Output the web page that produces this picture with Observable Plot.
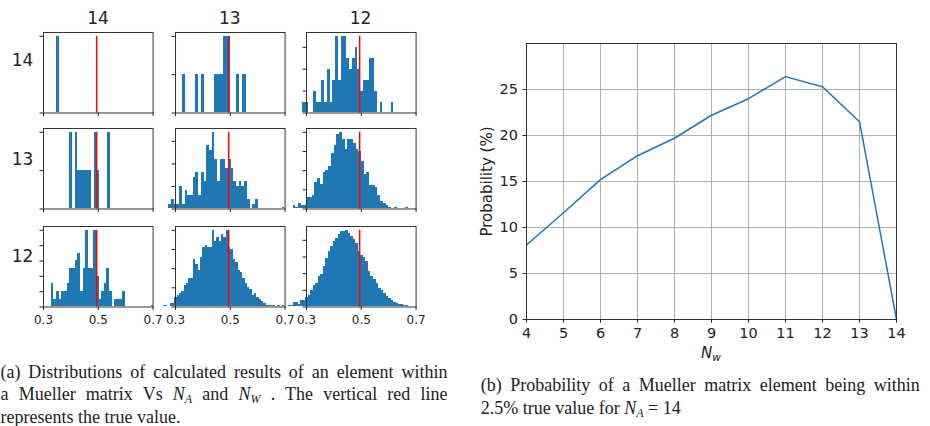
<!DOCTYPE html>
<html><head><meta charset="utf-8">
<script src="https://cdn.jsdelivr.net/npm/d3@7"></script>
<script src="https://cdn.jsdelivr.net/npm/@observablehq/plot@0.6"></script>
<style>
html,body{margin:0;padding:0;background:#fff;}
#fig{position:relative;width:930px;height:426px;overflow:hidden;font-family:"DejaVu Sans";color:#222;}
.lab{position:absolute;font-family:"DejaVu Sans";font-size:17px;line-height:17px;white-space:nowrap;}
.cap{position:absolute;font-family:"Liberation Serif";font-size:18px;line-height:20px;white-space:nowrap;color:#222;}
.cap.j{text-align:justify;text-align-last:justify;}
.cap sub{font-size:12px;line-height:0;vertical-align:-3px;}
svg{overflow:visible;}
</style></head><body><div id="fig"></div>
<script>
// ---------- data ----------
const trueValue = 0.494;
const colLabels = ["14", "13", "12"];
const rowLabels = ["14", "13", "12"];
const histXTicks = [0.3, 0.5, 0.7];

// histogram counts (row label _ column label)
const counts_14_14 = [1];
const counts_14_13 = [1,0,0,0,1,0,1,0,0,0,1,1,1,2,2,0,0,1,0,1];
const counts_14_12 = [1,1,0,0,2,1,1,3,1,4,1,3,7,3,7,7,5,4,5,6,4,2,3,3,5,5,2,0,1,0,0,0,1];
const counts_13_14 = [2,0,2,1,1,1,1,1,0,2,1,0,0,0,2];
const counts_13_13 = [1,2,1,1,5,1,4,3,3,7,8,3,8,6,14,13,17,11,6,11,11,9,11,9,6,5,6,5,6,2,0,1,2];
const counts_13_12 = [1,0,0,0,2,1,3,2,2,6,6,7,14,16,13,19,20,22,29,33,39,40,36,31,36,36,34,31,30,25,18,19,12,12,11,7,4,3,2,1,0,1,0,0,0,1];
const counts_12_14 = [3,1,2,1,2,2,3,5,5,6,7,2,5,10,5,5,10,4,1,2,3,5,2,0,1,1,1,2];
const counts_12_13 = [1,0,0,0,0,1,1,0,2,2,5,6,7,8,11,12,15,15,25,22,19,26,31,32,31,31,40,34,36,34,38,36,40,31,30,25,23,19,18,15,12,10,9,6,7,5,4,3,2,1,1,1,1,0,1,0,1];
const counts_12_12 = [4,4,5,8,10,25,26,15,40,38,55,70,100,130,140,180,195,240,290,330,365,390,410,435,450,455,460,440,425,405,380,330,310,295,270,215,180,165,140,110,100,80,60,50,38,28,18,14,12,10,6,5,5,5,5,0,5,0,5,0,5];

// first bin edge and bin width per panel (row-major)
const binStarts = [0.346, 0.326, 0.2853, 0.3964, 0.2756, 0.2108, 0.328, 0.2122, 0.206];
const binWidths = [0.012, 0.01159, 0.01012, 0.0098, 0.00988, 0.01, 0.0097, 0.00854, 0.00915];
const yTickSteps = [1, 1, 2, 1, 5, 10, 2, 10, 100];

// right chart
const nw = [4, 5, 6, 7, 8, 9, 10, 11, 12, 13, 14];
const probability = [8.1, 11.6, 15.2, 17.8, 19.7, 22.2, 24.0, 26.4, 25.3, 21.5, 0];
const probYTicks = [0, 5, 10, 15, 20, 25];

// ---------- layout ----------
const fig = document.getElementById("fig");
function place(el, left, top) {
  el.style.position = "absolute";
  el.style.left = left + "px";
  el.style.top = top + "px";
  fig.appendChild(el);
  return el;
}
function addLabel(html, left, top, cls, extra) {
  const d = document.createElement("div");
  d.className = cls;
  d.innerHTML = html;
  if (extra) Object.assign(d.style, extra);
  return place(d, left, top);
}

const panels = [counts_14_14, counts_14_13, counts_14_12, counts_13_14, counts_13_13, counts_13_12, counts_12_14, counts_12_13, counts_12_12];
const colX = [43.3, 175, 305.7];
const rowY = [31.7, 128.3, 225.7];
const frameW = 109.6, frameH = 80.5;
const mL = 20, mR = 20, mT = 6, mB = 22;

for (let r = 0; r < 3; r++) {
  for (let c = 0; c < 3; c++) {
    const k = r * 3 + c;
    const counts = panels[k];
    const bins = counts.map((n, i) => ({x1: binStarts[k] + i * binWidths[k], x2: binStarts[k] + (i + 1) * binWidths[k], n})).filter(d => d.n > 0);
    const ymax = d3.max(counts);
    const yt = d3.range(0, ymax + 1e-9, yTickSteps[k]);
    const svg = Plot.plot({
      width: frameW + mL + mR, height: frameH + mT + mB,
      marginLeft: mL, marginRight: mR, marginTop: mT, marginBottom: mB,
      x: {domain: [0.3, 0.7]},
      y: {domain: [0, ymax * 1.05]},
      style: {background: "transparent", overflow: "visible", fontFamily: "DejaVu Sans", fontSize: "12px", color: "#222"},
      marks: [
        Plot.rectY(bins, {x1: "x1", x2: "x2", y: "n", fill: "#1f77b4", shapeRendering: "crispEdges"}),
        Plot.ruleX([trueValue], {y1: 0, y2: ymax, stroke: "red", strokeWidth: 1.5}),
        Plot.frame({stroke: "#333", strokeWidth: 1}),
        Plot.axisX({ticks: histXTicks, tickSize: 3.5, tickPadding: 5, label: null, fontSize: 12,
          tickFormat: r === 2 ? (d => d.toFixed(1)) : (() => "")}),
        Plot.axisY({ticks: yt, tickSize: 3.5, label: null, tickFormat: () => ""})
      ]
    });
    d3.select(svg).selectAll("text").style("font-size", "12px");
    place(svg, colX[c] - mL, rowY[r] - mT);
  }
}
// column titles and row labels
colLabels.forEach((t, c) => addLabel(t, colX[c] + frameW / 2, 9.6, "lab", {transform: "translateX(-50%)"}));
const rowLabelTops = [52.3, 150.6, 248.3];
rowLabels.forEach((t, r) => addLabel(t, 0, rowLabelTops[r], "lab", {width: "33.3px", textAlign: "right"}));

// right chart
const rmL = 60, rmR = 34, rmT = 10, rmB = 20;
const right = Plot.plot({
  width: rmL + 370 + rmR, height: rmT + 276 + rmB,
  marginLeft: rmL, marginRight: rmR, marginTop: rmT, marginBottom: rmB,
  x: {domain: [4, 14]},
  y: {domain: [0, 30]},
  style: {background: "transparent", overflow: "visible", fontFamily: "DejaVu Sans", fontSize: "14.5px", color: "#222"},
  marks: [
    Plot.gridX(nw, {stroke: "#b0b0b0", strokeOpacity: 1, strokeWidth: 1}),
    Plot.gridY(probYTicks, {stroke: "#b0b0b0", strokeOpacity: 1, strokeWidth: 1}),
    Plot.line(nw.map((x, i) => ({x, y: probability[i]})), {x: "x", y: "y", stroke: "#1f77b4", strokeWidth: 1.5}),
    Plot.frame({stroke: "#333", strokeWidth: 1}),
    Plot.axisX({ticks: nw, tickSize: 3.5, tickPadding: 5, label: null, fontSize: 14.5}),
    Plot.axisY({ticks: probYTicks, tickSize: 3.5, tickPadding: 5, label: null, fontSize: 14.5}),
    Plot.text(["Probability (%)"], {text: d => d, frameAnchor: "left", rotate: -90, dx: -39, textAnchor: "middle", lineAnchor: "middle", fontSize: 15})
  ]
});
place(right, 526 - rmL, 43 - rmT);
addLabel("<i>N</i><sub style='font-size:10.5px;line-height:0;vertical-align:-3px'><i>w</i></sub>", 711, 344.5, "lab",
  {fontSize: "15px", lineHeight: "17px", transform: "translateX(-50%)"});

// captions
const capA = [
  "(a) Distributions of calculated results of an element within",
  "a Mueller matrix Vs <i>N</i><sub><i>A</i></sub> and <i>N</i><sub><i>W</i></sub> . The vertical red line",
  "represents the true value."
];
const capB = [
  "(b) Probability of a Mueller matrix element being within",
  "2.5% true value for <i>N</i><sub><i>A</i></sub> = 14"
];
const capABase = [377.7, 400.2, 422.7];
const capBBase = [390.7, 414.3];
capA.forEach((t, i) => addLabel(t, 0.5, capABase[i] - 16.1, i < 2 ? "cap j" : "cap", {width: "447px"}));
capB.forEach((t, i) => addLabel(t, 480.7, capBBase[i] - 16.1, i < 1 ? "cap j" : "cap", {width: "439px"}));
</script>
</body></html>
